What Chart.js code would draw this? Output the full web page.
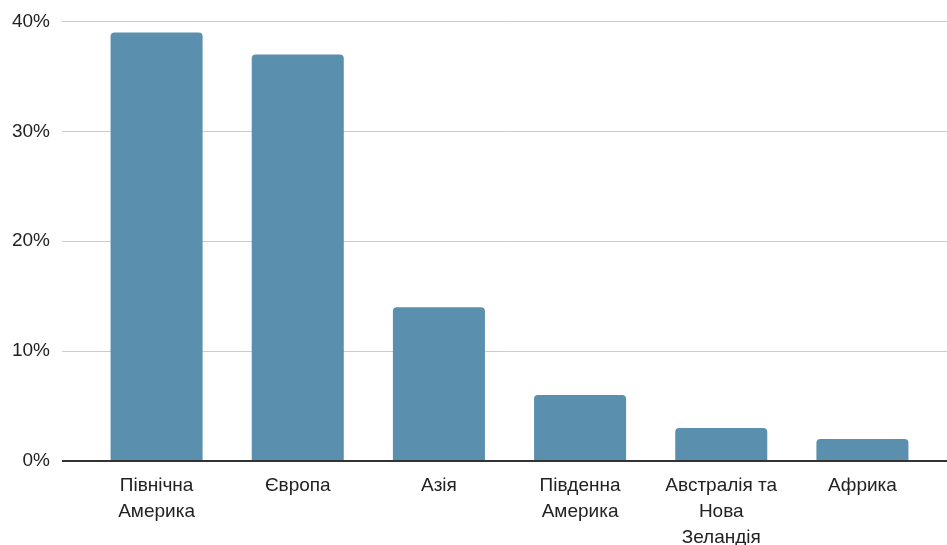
<!DOCTYPE html>
<html>
<head>
<meta charset="utf-8">
<script src="https://cdn.jsdelivr.net/npm/chart.js@4"></script>
<style>
html,body{margin:0;padding:0;background:#fff;}
#wrap{width:947px;height:545px;}
</style>
</head>
<body>
<div id="wrap"><canvas id="c" width="947" height="545"></canvas></div>
<script>
const categories = [["Північна", "Америка"], "Європа", "Азія", ["Південна", "Америка"], ["Австралія та", "Нова", "Зеландія"], "Африка"];
const shares = [39, 37, 14, 6, 3, 2];
const yMin = 0, yMax = 40, yStep = 10;

const gridColor = ctx => (ctx.tick && ctx.tick.value === 0) ? '#333333' : '#cccccc';
const gridWidth = ctx => (ctx.tick && ctx.tick.value === 0) ? 2 : 1;

new Chart(document.getElementById('c'), {
  type: 'bar',
  data: {
    labels: categories,
    datasets: [{
      data: shares,
      backgroundColor: '#5a90ad',
      borderRadius: 4,
      borderSkipped: 'bottom',
      categoryPercentage: 1,
      barPercentage: 0.652
    }]
  },
  options: {
    responsive: false,
    animation: false,
    devicePixelRatio: 1,
    layout: { padding: { top: 20.5, left: 0, right: 0, bottom: 0 } },
    plugins: { legend: { display: false }, tooltip: { enabled: false } },
    scales: {
      x: {
        grid: { display: false, drawTicks: false },
        border: { display: false },
        ticks: {
          color: '#222222',
          font: { family: "'Liberation Sans', Arial, sans-serif", size: 19, lineHeight: 1.37 },
          padding: 12,
          maxRotation: 0,
          autoSkip: false
        },
        afterFit: s => { s.height = 84; }
      },
      y: {
        min: yMin, max: yMax,
        grid: { color: gridColor, lineWidth: gridWidth, drawTicks: true, tickLength: 24 },
        border: { display: false, width: 0 },
        ticks: {
          stepSize: yStep,
          color: '#222222',
          font: { family: "'Liberation Sans', Arial, sans-serif", size: 19, lineHeight: 1 },
          padding: 12,
          callback: v => v + '%'
        },
        afterFit: s => { s.width = 86; }
      },
      y2: {
        position: 'right',
        min: yMin, max: yMax,
        grid: { color: gridColor, lineWidth: gridWidth, drawOnChartArea: false, drawTicks: true, tickLength: 14 },
        border: { display: false, width: 0 },
        ticks: { stepSize: yStep, display: false },
        afterFit: s => { s.width = 14; }
      }
    }
  }
});
</script>
</body>
</html>
